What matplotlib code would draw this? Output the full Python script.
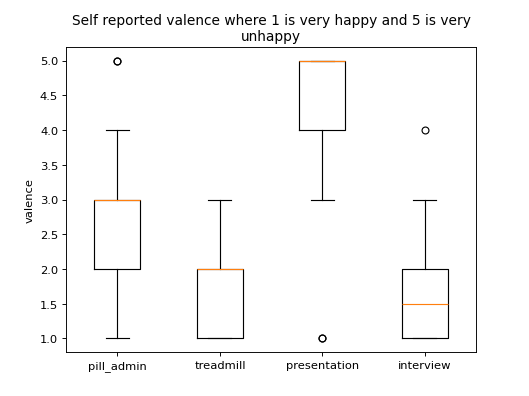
import matplotlib
matplotlib.use("Agg")
import matplotlib.pyplot as plt

categories = ["pill_admin", "treadmill", "presentation", "interview"]
pill_admin = [1, 2, 2, 2, 3, 3, 3, 3, 3, 3, 4, 5, 5]
treadmill = [1, 1, 1, 1, 2, 2, 2, 2, 2, 3]
presentation = [1, 1, 3, 4, 4, 4, 5, 5, 5, 5, 5, 5, 5]
interview = [1, 1, 1, 1, 1, 2, 2, 2, 3, 4]

fig, ax = plt.subplots(figsize=(6.4, 4.8), dpi=82.66)
ax.boxplot([pill_admin, treadmill, presentation, interview])
ax.set_xticks([1, 2, 3, 4])
ax.set_xticklabels(categories)
ax.set_ylabel("valence")
ax.set_title("Self reported valence where 1 is very happy and 5 is very\nunhappy")
fig.savefig("out.png", dpi=82.66)
